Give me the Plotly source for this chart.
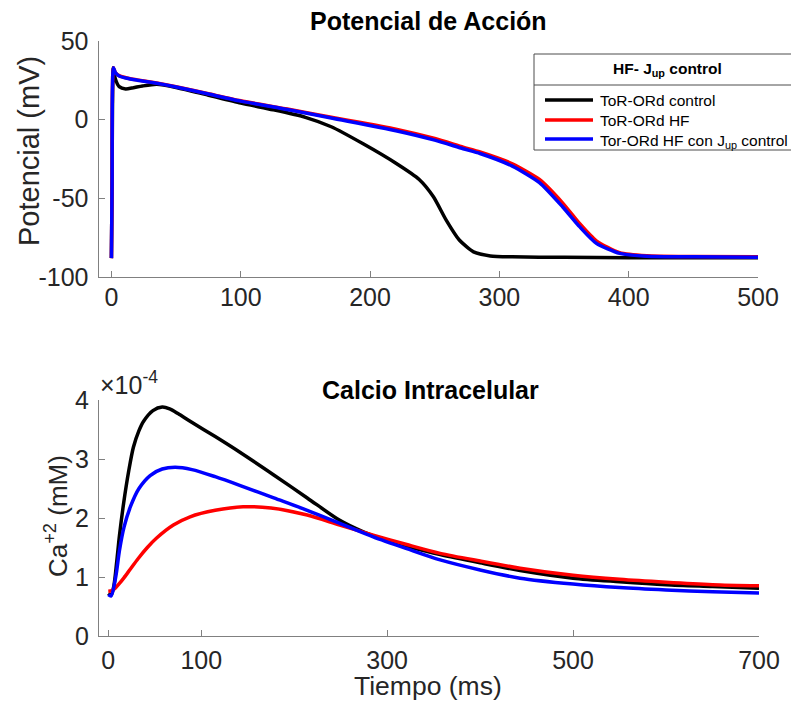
import plotly.graph_objects as go

# ---------------- data ----------------
# Action potential (mV) vs time (ms)
t_ap_ctrl = [0, 0.5, 1.5, 3, 6, 11, 17, 24, 35, 50, 75, 100, 125, 150, 170, 195, 220, 238, 249, 259, 269, 280, 293, 310, 350, 400, 450, 500]
v_ctrl = [-88, -40, 33, 26, 21, 19.5, 20.3, 21.4, 22.5, 20.5, 15.5, 10.5, 6.3, 1.5, -4.5, -15.5, -27.7, -38, -49, -64, -76.5, -84, -86.6, -87.2, -87.5, -87.7, -87.8, -87.8]

t_ap_hf = [0, 0.5, 1.5, 3, 6, 12, 20, 35, 50, 75, 100, 138, 170, 220, 250, 272, 285, 310, 331, 349, 362, 375, 393, 414, 450, 500]
v_hf = [-88, -40, 33, 30, 28, 26.5, 25.3, 23.3, 21, 16.5, 12, 6.5, 1.5, -6, -12, -17.5, -20.5, -28, -38, -53, -66, -77, -84.5, -86.5, -87, -87.2]
v_hf_jup = [-88, -40, 33, 30, 27.8, 26.3, 25.1, 23.1, 20.8, 16.3, 11.8, 6.2, 1, -7, -13, -18.5, -21.5, -29.5, -40, -55.5, -68, -78.6, -85, -86.8, -87.2, -87.4]

# Intracellular calcium (x1e-4 mM) vs time (ms)
t_ca_ctrl = [0, 3, 6, 9, 12, 16.5, 22, 27, 33, 38, 48, 58, 66, 75, 88, 115, 142, 178, 214, 249, 275, 300, 321, 357, 400, 443, 500, 550, 600, 650, 700]
ca_ctrl = [0.72, 0.69, 0.85, 1.25, 1.7, 2.25, 2.8, 3.2, 3.48, 3.64, 3.82, 3.88, 3.85, 3.77, 3.64, 3.38, 3.11, 2.73, 2.34, 1.96, 1.76, 1.61, 1.52, 1.38, 1.24, 1.11, 0.98, 0.92, 0.87, 0.84, 0.81]

t_ca_hf = [0, 4, 8, 12, 17, 24, 32, 42, 52, 70, 88, 115, 145, 175, 214, 249, 285, 321, 357, 400, 443, 500, 550, 600, 650, 700]
ca_hf = [0.76, 0.77, 0.82, 0.89, 0.99, 1.14, 1.31, 1.50, 1.66, 1.88, 2.02, 2.13, 2.19, 2.17, 2.05, 1.88, 1.71, 1.55, 1.40, 1.27, 1.15, 1.03, 0.96, 0.91, 0.87, 0.85]

t_ca_jup = [0, 3, 8, 12, 17, 24, 33, 45, 58, 72, 90, 115, 142, 178, 214, 249, 285, 321, 357, 400, 443, 500, 550, 600, 650, 700]
ca_jup = [0.70, 0.68, 1.0, 1.45, 1.85, 2.2, 2.5, 2.72, 2.83, 2.86, 2.82, 2.70, 2.55, 2.34, 2.13, 1.91, 1.68, 1.48, 1.29, 1.12, 0.98, 0.88, 0.82, 0.78, 0.75, 0.73]

names = ["ToR-ORd control", "ToR-ORd HF", "Tor-ORd HF con J<sub>up</sub> control"]
colors = ["#000000", "#ff0000", "#0000ff"]
legend_title = "<b>HF- J<sub>up</sub> control</b>"

ap_x_ticks = [0, 100, 200, 300, 400, 500]
ap_y_ticks = [-100, -50, 0, 50]
ap_y_labels = ["-100", "-50", "0", "50"]
ca_x_ticks = [0, 100, 300, 500, 700]
ca_y_ticks = [0, 1, 2, 3, 4]

# ---------------- figure ----------------
# page body has an 8 px margin: figure is placed at (8, 8)
OFF = 8
W, H = 799 - OFF, 704 - OFF
def fx(p):
    return (p - OFF) / W
def fy(p):
    return 1 - (p - OFF) / H

FONT = "Liberation Sans, Arial, sans-serif"
TXT = "#262626"
fig = go.Figure()
ap_sets = [(t_ap_ctrl, v_ctrl), (t_ap_hf, v_hf), (t_ap_hf, v_hf_jup)]
for (t, v), n, c in zip(ap_sets, names, colors):
    fig.add_trace(go.Scatter(x=t, y=v, mode="lines", name=n,
                             line=dict(color=c, width=3.5, shape="spline", smoothing=0.6),
                             xaxis="x", yaxis="y", showlegend=False))
ca_sets = [(t_ca_ctrl, ca_ctrl), (t_ca_hf, ca_hf), (t_ca_jup, ca_jup)]
for (t, v), n, c in zip(ca_sets, names, colors):
    fig.add_trace(go.Scatter(x=t, y=v, mode="lines", name=n,
                             line=dict(color=c, width=3.5, shape="spline", smoothing=0.8),
                             xaxis="x2", yaxis="y2", showlegend=False))

axis_common = dict(showline=True, linecolor="#808080", linewidth=1, ticks="inside",
                   ticklen=6, tickcolor="#808080", showgrid=False, zeroline=False,
                   tickfont=dict(family=FONT, size=25, color=TXT),
                   mirror=False, automargin=False)

annotations = [
    dict(text="<b>Potencial de Acción</b>", x=fx(428), y=fy(21),
         font=dict(family=FONT, size=25, color="#000000")),
    dict(text="<b>Calcio Intracelular</b>", x=fx(430), y=fy(390),
         font=dict(family=FONT, size=25, color="#000000")),
    dict(text="×10<sup>-4</sup>", x=fx(98), y=fy(383), xanchor="left",
         font=dict(family=FONT, size=25, color=TXT)),
    dict(text="Potencial (mV)", x=fx(29), y=fy(151), textangle=-90,
         font=dict(family=FONT, size=29, color=TXT)),
    dict(text="Ca<sup>+2</sup> (mM)", x=fx(56), y=fy(516), textangle=-90,
         font=dict(family=FONT, size=26, color=TXT)),
    dict(text="Tiempo (ms)", x=fx(428), y=fy(686),
         font=dict(family=FONT, size=26.5, color=TXT)),
    dict(text=legend_title, x=fx(667), y=fy(70),
         font=dict(family=FONT, size=15.5, color="#000000")),
]
shapes = [
    dict(type="rect", xref="paper", yref="paper", x0=fx(534), x1=fx(797), y0=fy(150), y1=fy(54),
         line=dict(color="#4d4d4d", width=1), fillcolor="white", layer="above"),
    dict(type="line", xref="paper", yref="paper", x0=fx(534), x1=fx(797), y0=fy(85), y1=fy(85),
         line=dict(color="#4d4d4d", width=1), layer="above"),
]
entry_y = [100, 120, 139]
for n, c, yy in zip(names, colors, entry_y):
    shapes.append(dict(type="line", xref="paper", yref="paper", x0=fx(545), x1=fx(593),
                       y0=fy(yy), y1=fy(yy), line=dict(color=c, width=3.5), layer="above"))
    ty = yy + (3 if "sub" in n else 0)
    annotations.append(dict(text=n, x=fx(598), y=fy(ty), xanchor="left",
                            font=dict(family=FONT, size=15.5, color="#000000")))
for a in annotations:
    a.setdefault("xref", "paper")
    a.setdefault("yref", "paper")
    a.setdefault("showarrow", False)
    a.setdefault("xanchor", "center")
    a.setdefault("yanchor", "middle")

fig.update_layout(
    width=W, height=H,
    margin=dict(l=0, r=0, t=0, b=0),
    paper_bgcolor="white", plot_bgcolor="white",
    font=dict(family=FONT, color=TXT),
    showlegend=False,
    xaxis=dict(domain=[fx(98.5), fx(758)], range=[-10, 500], tickvals=ap_x_ticks,
               anchor="y", ticklabelstandoff=-2, **axis_common),
    yaxis=dict(domain=[fy(277), fy(41)], range=[-100, 50], tickvals=ap_y_ticks,
               ticktext=ap_y_labels, anchor="x", ticklabelstandoff=4, **axis_common),
    xaxis2=dict(domain=[fx(99), fx(759)], range=[-10, 700], tickvals=ca_x_ticks,
                anchor="y2", ticklabelstandoff=2, **axis_common),
    yaxis2=dict(domain=[fy(636), fy(400)], range=[0, 4], tickvals=ca_y_ticks,
                anchor="x2", ticklabelstandoff=4, **axis_common),
    annotations=annotations,
    shapes=shapes,
)

fig.write_html("out.html")
